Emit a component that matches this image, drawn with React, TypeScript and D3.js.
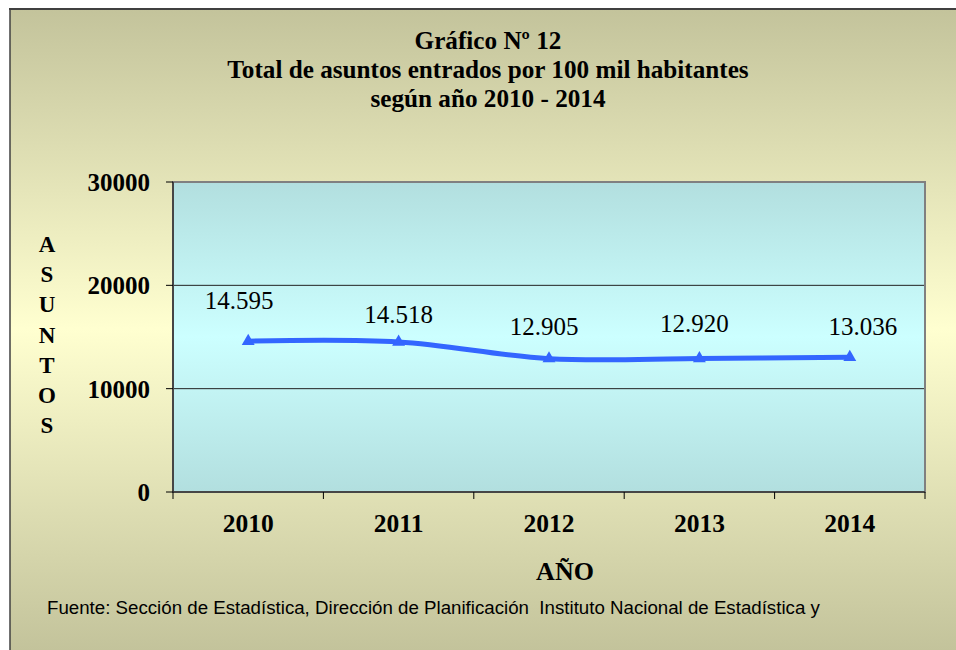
import React from "react";
import * as d3 from "d3";

const years = ["2010", "2011", "2012", "2013", "2014"];
const values = [14595, 14518, 12905, 12920, 13036];
const valueLabels = ["14.595", "14.518", "12.905", "12.920", "13.036"];
const yTicks = [0, 10000, 20000, 30000];
const titleLines = ["Gráfico Nº 12", "Total de asuntos entrados por 100 mil habitantes", "según año 2010 - 2014"];
const yTitleLetters = ["A", "S", "U", "N", "T", "O", "S"];
const labelDy = [-32, -19, -24, -26.5, -22];
const labelDx = [-9, 0, -5, -5, 13];

const W = 956;
const H = 650;
const plot = { left: 173, top: 182, right: 925, bottom: 492 };

export default function App() {
  const x = d3.scaleBand<string>().domain(years).range([plot.left, plot.right]).padding(0);
  const y = d3.scaleLinear().domain([0, 30000]).range([plot.bottom, plot.top]);
  const cx = (yr: string) => (x(yr) as number) + x.bandwidth() / 2;
  const line = d3
    .line<number>()
    .x((_, i) => cx(years[i]))
    .y((d) => y(d))
    .curve(d3.curveCardinal.tension(0));
  const tri = d3.symbol().type(d3.symbolTriangle).size(72)() as string;
  const edges = [...years.map((yr) => x(yr) as number), plot.right];
  const serif = { fontFamily: '"Liberation Serif", "Times New Roman", serif' };
  const sans = { fontFamily: '"Liberation Sans", Arial, sans-serif' };

  return (
    <div style={{ position: "fixed", left: 0, top: 0, width: W, height: H, overflow: "hidden" }}>
      <svg width={W} height={H} style={{ display: "block" }}>
        <defs>
          <linearGradient id="bg" x1="0" y1="0" x2="0" y2="1">
            <stop offset="0" stopColor="#c3c39b" />
            <stop offset="0.5" stopColor="#ffffd0" />
            <stop offset="1" stopColor="#c3c39b" />
          </linearGradient>
          <linearGradient id="pbg" x1="0" y1="0" x2="0" y2="1">
            <stop offset="0" stopColor="#b2dfdf" />
            <stop offset="0.5" stopColor="#ccffff" />
            <stop offset="1" stopColor="#b2dfdf" />
          </linearGradient>
        </defs>
        <rect x={0} y={0} width={W} height={H} fill="#ffffff" />
        <rect x={10} y={8} width={W - 10} height={H - 8} fill="url(#bg)" />
        <line x1={9} y1={9} x2={W} y2={9} stroke="#404040" strokeWidth={2} />
        <line x1={10} y1={8} x2={10} y2={H} stroke="#404040" strokeWidth={1.5} />

        {titleLines.map((t, i) => (
          <text key={i} x={488} y={49 + i * 29} textAnchor="middle" style={serif} fontWeight="bold" fontSize={25.2} fill="#000">
            {t}
          </text>
        ))}

        <rect x={plot.left} y={plot.top} width={plot.right - plot.left} height={plot.bottom - plot.top} fill="url(#pbg)" />
        {yTicks.slice(1, -1).map((t) => (
          <line key={t} x1={plot.left} x2={plot.right} y1={y(t)} y2={y(t)} stroke="#222" strokeWidth={1} />
        ))}
        <rect x={plot.left} y={plot.top} width={plot.right - plot.left} height={plot.bottom - plot.top} fill="none" stroke="#808080" strokeWidth={2} />
        <line x1={plot.left} x2={plot.left} y1={plot.top} y2={plot.bottom} stroke="#333" strokeWidth={1.5} />
        <line x1={plot.left} x2={plot.right} y1={plot.bottom} y2={plot.bottom} stroke="#333" strokeWidth={1.5} />

        {yTicks.map((t) => (
          <g key={t}>
            <line x1={plot.left - 7} x2={plot.left} y1={y(t)} y2={y(t)} stroke="#000" strokeWidth={1} />
            <text x={plot.left - 23} y={y(t) + 9} textAnchor="end" style={serif} fontWeight="bold" fontSize={25}>
              {t}
            </text>
          </g>
        ))}
        {edges.map((e, i) => (
          <line key={i} x1={e} x2={e} y1={plot.bottom} y2={plot.bottom + 7} stroke="#000" strokeWidth={1} />
        ))}
        {years.map((yr) => (
          <text key={yr} x={cx(yr)} y={532} textAnchor="middle" style={serif} fontWeight="bold" fontSize={25.5}>
            {yr}
          </text>
        ))}

        <path d={line(values) as string} fill="none" stroke="#3366ff" strokeWidth={5} />
        {values.map((v, i) => (
          <path key={i} d={tri} transform={`translate(${cx(years[i])},${y(v)})`} fill="#3366ff" />
        ))}
        {values.map((v, i) => (
          <text key={i} x={cx(years[i]) + labelDx[i]} y={y(v) + labelDy[i]} textAnchor="middle" style={serif} fontSize={25} fill="#000">
            {valueLabels[i]}
          </text>
        ))}

        {yTitleLetters.map((l, i) => (
          <text key={i} x={47} y={252 + i * 30.2} textAnchor="middle" style={serif} fontWeight="bold" fontSize={23}>
            {l}
          </text>
        ))}
        <text x={565} y={580} textAnchor="middle" style={serif} fontWeight="bold" fontSize={26}>
          AÑO
        </text>
        <text x={47} y={614} style={sans} fontSize={18.7} fill="#000" xmlSpace="preserve">
          {"Fuente: Sección de Estadística, Dirección de Planificación\u00a0 Instituto Nacional de Estadística y"}
        </text>
      </svg>
    </div>
  );
}
